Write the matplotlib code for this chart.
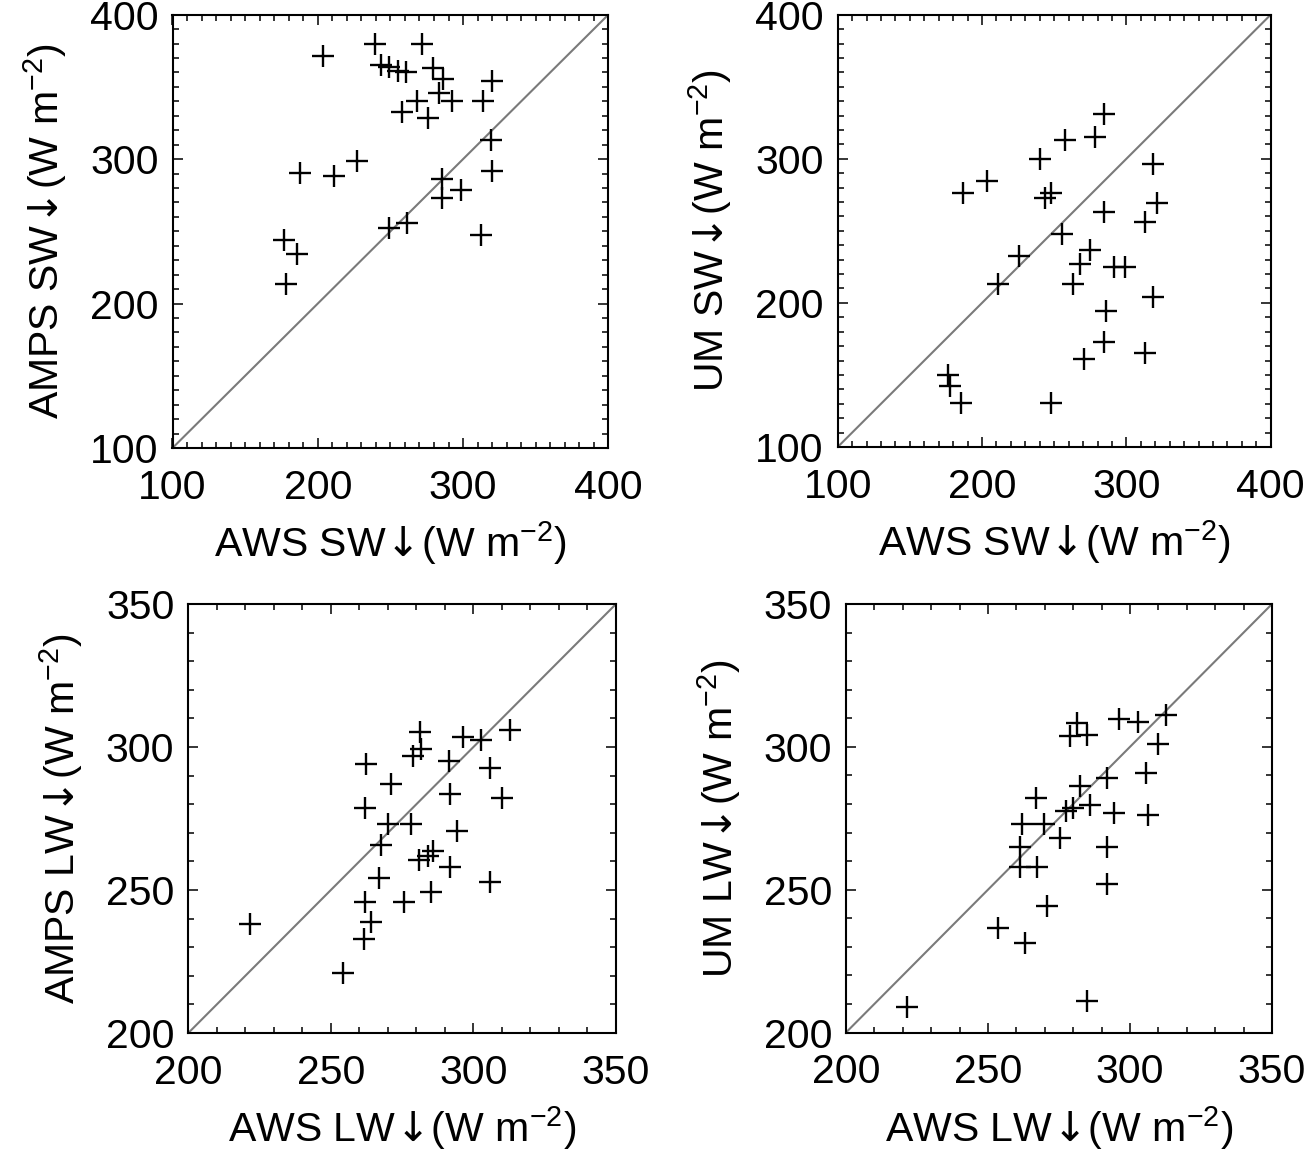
import matplotlib
matplotlib.use("Agg")
import matplotlib.pyplot as plt
from matplotlib.ticker import MultipleLocator

plt.rcParams['font.family'] = ['Liberation Sans', 'DejaVu Sans']
plt.rcParams['mathtext.fontset'] = 'custom'
plt.rcParams['mathtext.rm'] = 'Liberation Sans'
plt.rcParams['mathtext.it'] = 'Liberation Sans:italic'
plt.rcParams['mathtext.bf'] = 'Liberation Sans:bold'
plt.rcParams['mathtext.sf'] = 'DejaVu Sans'

# ---- Data ----
# Top-left: AWS SW vs AMPS SW
sw_amps_x = [203.3, 239.6, 271.8, 243.5, 249.1, 255.0, 261.0, 279.4, 286.3, 319.7,
             283.3, 292.5, 313.9, 268.4, 258.0, 276.0, 319.0, 227.0, 187.9, 210.9,
             285.2, 319.7, 298.3, 285.2, 261.5, 248.8, 312.1, 176.8, 186.0, 178.2]
sw_amps_y = [371.3, 379.4, 379.4, 365.0, 363.9, 361.1, 360.4, 363.2, 355.3, 353.9,
             345.8, 340.0, 340.0, 340.0, 332.6, 328.5, 313.4, 298.4, 290.3, 288.2,
             286.3, 292.1, 278.7, 272.9, 255.6, 252.1, 247.7, 244.0, 234.3, 213.4]

# Top-right: AWS SW vs UM SW
sw_um_x = [284.2, 278.2, 257.4, 240.1, 318.6, 203.2, 186.5, 247.7, 243.5, 320.9,
           284.2, 312.8, 255.1, 274.7, 225.5, 268.2, 291.6, 298.9, 211.2, 262.7,
           318.6, 286.2, 284.2, 312.8, 270.6, 176.2, 177.8, 185.2, 247.7]
sw_um_y = [330.8, 315.3, 313.0, 299.8, 296.1, 284.5, 276.6, 276.6, 273.1, 269.4,
           263.2, 256.3, 248.1, 236.6, 232.4, 227.3, 225.0, 225.0, 213.4, 213.4,
           204.2, 194.2, 173.1, 165.3, 161.3, 149.8, 142.1, 130.6, 130.6]

# Bottom-left: AWS LW vs AMPS LW
lw_amps_x = [221.7, 254.1, 261.6, 264.0, 261.9, 266.9, 275.6, 285.1, 280.8, 284.0,
             285.7, 291.9, 305.8, 267.7, 270.0, 278.1, 294.4, 261.9, 271.2, 291.9,
             310.1, 262.4, 278.7, 281.6, 281.4, 291.6, 296.2, 302.6, 305.8, 312.8]
lw_amps_y = [238.0, 220.9, 232.9, 238.9, 245.9, 254.3, 245.9, 249.3, 260.4, 261.8,
             263.6, 258.0, 252.9, 265.9, 273.1, 273.1, 270.8, 278.5, 287.2, 283.7,
             282.0, 294.1, 296.8, 299.3, 305.2, 295.0, 303.4, 302.6, 292.5, 306.1]

# Bottom-right: AWS LW vs UM LW
lw_um_x = [221.4, 284.9, 253.6, 263.2, 270.7, 291.9, 261.2, 267.4, 261.2, 291.9,
           275.5, 262.1, 269.8, 277.6, 280.0, 285.8, 294.4, 306.3, 266.9, 282.3,
           291.9, 305.7, 309.8, 278.8, 284.9, 281.4, 296.0, 302.8, 312.8]
lw_um_y = [208.9, 211.0, 236.5, 231.2, 244.4, 252.0, 258.0, 258.0, 264.8, 264.8,
           268.2, 273.1, 272.9, 277.6, 278.7, 279.5, 277.0, 276.1, 282.2, 286.3,
           289.2, 290.7, 300.9, 303.8, 304.3, 308.4, 309.6, 308.7, 311.3]

sw_range = (100, 400)
lw_range = (200, 350)
sw_ticks = [100, 200, 300, 400]
lw_ticks = [200, 250, 300, 350]

ARROW = r'$\!\mathsf{\downarrow}\!$'
UNIT = r'(W m$^{-2}$)'
xlabel_sw = 'AWS SW' + ARROW + UNIT
xlabel_lw = 'AWS LW' + ARROW + UNIT
ylabels = ['AMPS SW' + ARROW + UNIT, 'UM SW' + ARROW + UNIT,
           'AMPS LW' + ARROW + UNIT, 'UM LW' + ARROW + UNIT]

W, H = 1313, 1158
fig = plt.figure(figsize=(W / 100, H / 100), dpi=100)

boxes = [
    (172.5, 14.7, 608.3, 448.0),
    (837.7, 14.7, 1270.7, 447.0),
    (188.3, 604.0, 616.0, 1033.0),
    (846.0, 604.0, 1272.0, 1032.5),
]
panels = [
    (sw_amps_x, sw_amps_y, sw_range, sw_ticks, 10, xlabel_sw),
    (sw_um_x, sw_um_y, sw_range, sw_ticks, 10, xlabel_sw),
    (lw_amps_x, lw_amps_y, lw_range, lw_ticks, 10, xlabel_lw),
    (lw_um_x, lw_um_y, lw_range, lw_ticks, 10, xlabel_lw),
]

fs = 29.5
for (l, t, r, b), (xs, ys, rng, ticks, mnr, xl), yl in zip(boxes, panels, ylabels):
    ax = fig.add_axes([l / W, 1 - b / H, (r - l) / W, (b - t) / H])
    ax.plot([rng[0], rng[1]], [rng[0], rng[1]], color='#7a7a7a', lw=1.5, zorder=1)
    ax.plot(xs, ys, linestyle='none', marker='+', markersize=15.5, mew=1.7,
            color='black', zorder=2)
    ax.set_xlim(rng)
    ax.set_ylim(rng)
    ax.set_xticks(ticks)
    ax.set_yticks(ticks)
    ax.xaxis.set_minor_locator(MultipleLocator(mnr))
    ax.yaxis.set_minor_locator(MultipleLocator(mnr))
    ax.tick_params(which='both', direction='in', top=True, right=True, width=1.1)
    ax.tick_params(which='major', length=7.5, labelsize=fs)
    ax.tick_params(axis='y', which='major', pad=10)
    ax.tick_params(axis='x', which='major', pad=15)
    ax.tick_params(which='minor', length=4)
    for s in ax.spines.values():
        s.set_linewidth(1.5)
    ax.set_xlabel(xl, fontsize=fs, labelpad=9)
    ax.set_ylabel(yl, fontsize=fs, labelpad=15)

fig.savefig('out.png', dpi=100)
